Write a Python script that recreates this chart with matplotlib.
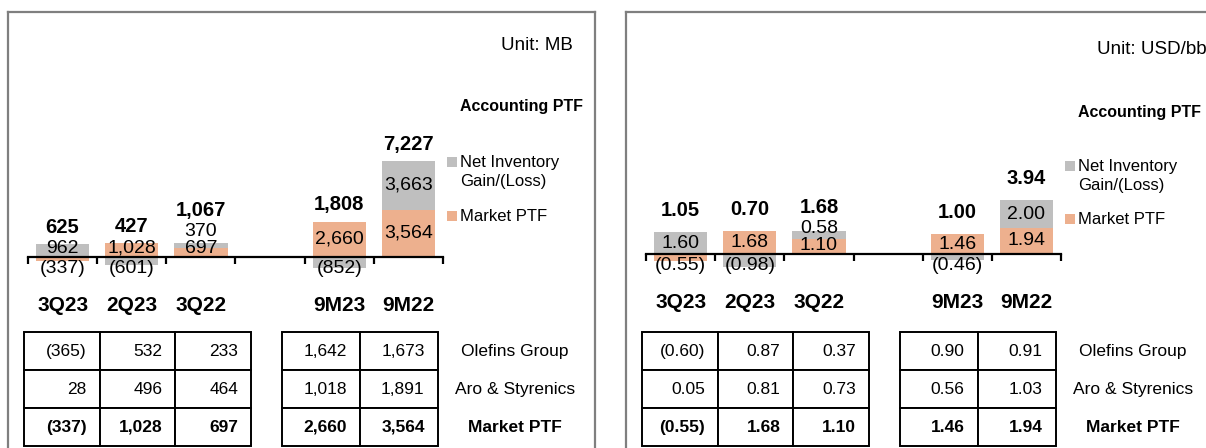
import matplotlib
matplotlib.use('Agg')
import matplotlib.pyplot as plt
from matplotlib.patches import Rectangle
from matplotlib.lines import Line2D
import numpy as np

W, H = 1206, 448
plt.rcParams['font.family'] = ['Liberation Sans', 'DejaVu Sans']

# ---------------- data ----------------
categories = ['3Q23', '2Q23', '3Q22', '', '9M23', '9M22']
series_names = ['Net Inventory\nGain/(Loss)', 'Market PTF']

mb_market = [-337, 1028, 697, np.nan, 2660, 3564]
mb_inventory = [962, -601, 370, np.nan, -852, 3663]

usd_market = [-0.55, 1.68, 1.10, np.nan, 1.46, 1.94]
usd_inventory = [1.60, -0.98, 0.58, np.nan, -0.46, 2.00]

row_labels = ['Olefins Group', 'Aro & Styrenics', 'Market PTF']
mb_olefins = [-365, 532, 233, 1642, 1673]
mb_aro = [28, 496, 464, 1018, 1891]
mb_market_tbl = [-337, 1028, 697, 2660, 3564]
usd_olefins = [-0.60, 0.87, 0.37, 0.90, 0.91]
usd_aro = [0.05, 0.81, 0.73, 0.56, 1.03]
usd_market_tbl = [-0.55, 1.68, 1.10, 1.46, 1.94]

GRAY = '#BFBFBF'
ORANGE = '#EDB08E'
BORDER = '#7F7F7F'


def fmt_mb(v):
    s = f"{abs(v):,.0f}"
    return f"({s})" if v < 0 else s


def fmt_usd(v):
    s = f"{abs(v):.2f}"
    return f"({s})" if v < 0 else s


fig = plt.figure(figsize=(W / 100, H / 100), dpi=100)


def fr(x0, y0, x1, y1):
    return [x0 / W, 1 - y1 / H, (x1 - x0) / W, (y1 - y0) / H]


def fx(x):
    return x / W


def fy(y):
    return 1 - y / H


def draw_panel(dx, market, inventory, fmt, scale, axis_y, total_gap,
               unit_text, unit_x, unit_y, title_y, leg_ys,
               olefins, aro, mkt_tbl, right_edge=None):
    # border
    xr = right_edge
    fig.add_artist(Line2D([fx(8 + dx), fx(xr if xr else W + 5)], [fy(12), fy(12)],
                          color=BORDER, lw=1.6))
    fig.add_artist(Line2D([fx(8 + dx), fx(8 + dx)], [fy(12), fy(H + 5)],
                          color=BORDER, lw=1.6))
    if xr:
        fig.add_artist(Line2D([fx(xr), fx(xr)], [fy(12), fy(H + 5)],
                              color=BORDER, lw=1.6))

    y_top_px, y_bot_px = 20, 330
    ax = fig.add_axes(fr(28 + dx, y_top_px, 443 + dx, y_bot_px))
    ax.set_xlim(-0.5, len(categories) - 0.5)
    ax.set_ylim(-(y_bot_px - axis_y) / scale, (axis_y - y_top_px) / scale)
    ax.patch.set_alpha(0)
    for s in ['left', 'right', 'top']:
        ax.spines[s].set_visible(False)
    ax.spines['bottom'].set_position(('data', 0))
    ax.spines['bottom'].set_linewidth(1.6)
    ax.set_yticks([])
    ax.set_xticks(np.arange(-0.5, len(categories), 1.0))
    ax.set_xticklabels([])
    ax.tick_params(axis='x', which='major', direction='out', length=5, width=1.6)
    x = np.arange(len(categories))
    ax.set_xticks(x, minor=True)
    ax.set_xticklabels(categories, minor=True, fontweight='bold', fontsize=15)
    ax.tick_params(axis='x', which='minor', length=0, pad=28)

    px = 1.0 / scale
    n = len(categories)
    pos_base = np.zeros(n)
    neg_base = np.zeros(n)
    seg_info = [[] for _ in range(n)]
    for vals, color in [(market, ORANGE), (inventory, GRAY)]:
        v = np.array(vals, dtype=float)
        vz = np.nan_to_num(v)
        base = np.where(vz >= 0, pos_base, neg_base)
        ax.bar(x, vz, width=0.77, bottom=base, color=color, linewidth=0)
        for i in range(n):
            if not np.isnan(v[i]):
                seg_info[i].append((base[i], vz[i]))
        pos_base = pos_base + np.where(vz > 0, vz, 0)
        neg_base = neg_base + np.where(vz < 0, vz, 0)

    for i in range(n):
        if not seg_info[i]:
            continue
        last_pos = None
        for b, v in seg_info[i]:
            if v >= 0:
                mid = b + v / 2
                if last_pos is None:
                    yl = max(mid, 9 * px)
                else:
                    yl = max(mid, last_pos + 17 * px)
                last_pos = yl
            else:
                yl = -11 * px
            ax.text(x[i], yl, fmt(v), ha='center', va='center', fontsize=14,
                    clip_on=False)
        total = sum(v for _, v in seg_info[i])
        yt = pos_base[i] + total_gap * px
        if last_pos is not None:
            yt = max(yt, last_pos + 21 * px)
        ax.text(x[i], yt, fmt(total), ha='center', va='center', fontsize=14.5,
                fontweight='bold', clip_on=False)

    # unit & title
    fig.text(fx(unit_x), fy(unit_y), unit_text, ha='left', va='center', fontsize=13.5)
    fig.text(fx(460 + dx), fy(title_y), 'Accounting PTF', ha='left', va='center',
             fontsize=11.5, fontweight='bold')

    # legend
    leg_colors = [GRAY, ORANGE]
    k = 0
    for name, col in zip(series_names, leg_colors):
        lines = name.split('\n')
        yc = leg_ys[k]
        fig.add_artist(Rectangle((fx(447 + dx), fy(yc + 5)), 10 / W, 10 / H,
                                 transform=fig.transFigure, color=col, lw=0))
        for j, ln in enumerate(lines):
            fig.text(fx(460 + dx), fy(yc + 19 * j), ln, ha='left', va='center',
                     fontsize=12)
        k += 1

    # tables
    cols = [olefins, aro, mkt_tbl]
    blocks = [((24, 251), slice(0, 3)), ((282, 438), slice(3, 5))]
    for (x0, x1), sl in blocks:
        tax = fig.add_axes(fr(x0 + dx, 332, x1 + dx, 446))
        tax.axis('off')
        cells = [[fmt(v) for v in c[sl]] for c in cols]
        tbl = tax.table(cellText=cells, cellLoc='right', bbox=[0, 0, 1, 1])
        tbl.auto_set_font_size(False)
        tbl.set_fontsize(12.5)
        for (r, c), cell in tbl.get_celld().items():
            cell.set_linewidth(1.4)
            cell.set_edgecolor('black')
            cell.PAD = 0.17
            if r == 2:
                cell.get_text().set_fontweight('bold')
    for j, lab in enumerate(row_labels):
        fig.text(fx(515 + dx), fy(351 + 38 * j), lab, ha='center', va='center',
                 fontsize=12.5, fontweight='bold' if j == 2 else 'normal')


draw_panel(0, mb_market, mb_inventory, fmt_mb, 96.0 / 7227, 257, 17,
           'Unit: MB', 501, 45, 107, [162, 216],
           mb_olefins, mb_aro, mb_market_tbl, right_edge=595)
draw_panel(618, usd_market, usd_inventory, fmt_usd, 13.6, 254, 22,
           'Unit: USD/bbl', 1097, 49, 112, [166, 219],
           usd_olefins, usd_aro, usd_market_tbl, right_edge=None)

fig.savefig('out.png', dpi=100)
